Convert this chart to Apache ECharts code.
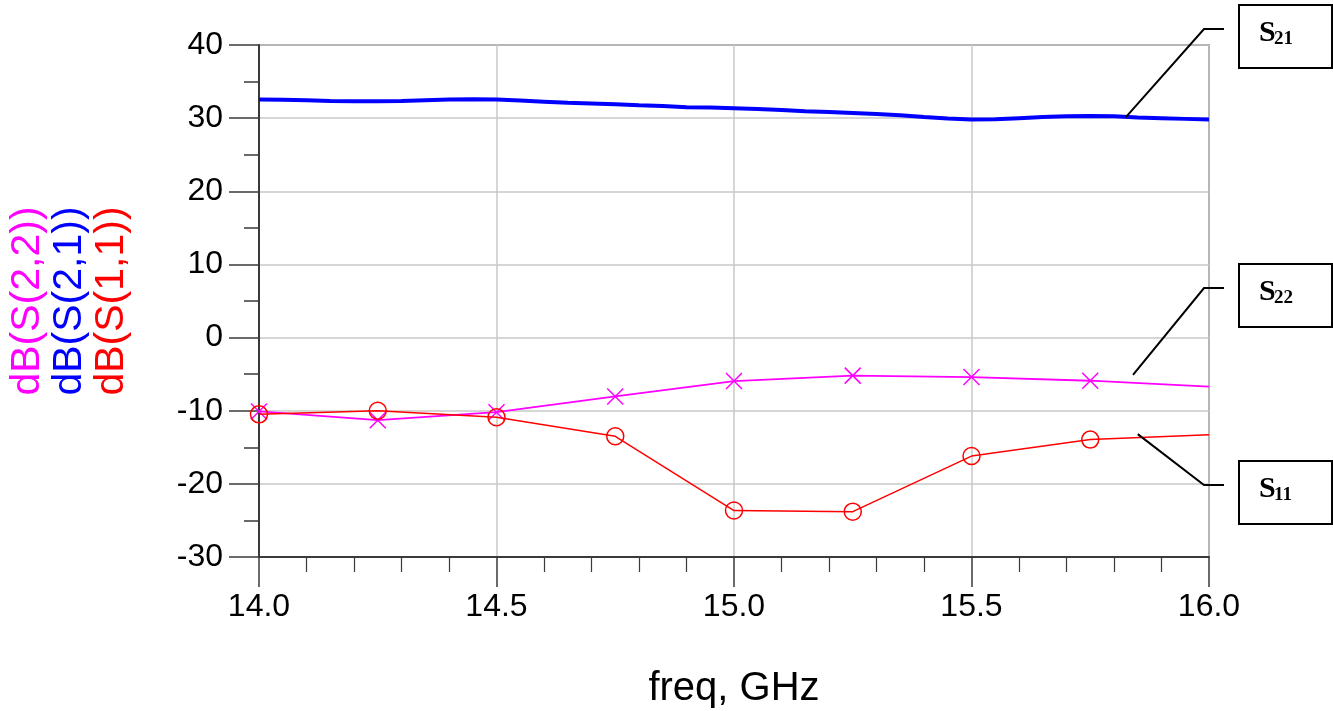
<!DOCTYPE html>
<html>
<head>
<meta charset="utf-8">
<script src="https://cdn.jsdelivr.net/npm/echarts@6/dist/echarts.min.js"></script>
<style>
html,body{margin:0;padding:0;background:#fff;}
#chart{width:1333px;height:711px;}
</style>
</head>
<body>
<div id="chart"></div>
<script>
// ---- data ----
const s21Freq = [14.00,14.05,14.10,14.15,14.20,14.25,14.30,14.35,14.40,14.45,14.50,14.55,14.60,14.65,14.70,14.75,14.80,14.85,14.90,14.95,15.00,15.05,15.10,15.15,15.20,15.25,15.30,15.35,15.40,15.45,15.50,15.55,15.60,15.65,15.70,15.75,15.80,15.85,15.90,15.95,16.00];
const s21Values = [32.55,32.5,32.45,32.35,32.3,32.3,32.35,32.45,32.55,32.6,32.55,32.4,32.25,32.1,32.0,31.9,31.75,31.65,31.5,31.45,31.35,31.25,31.1,30.95,30.85,30.7,30.55,30.4,30.15,29.95,29.8,29.85,30.0,30.15,30.25,30.3,30.25,30.1,30.0,29.9,29.8];
const markFreq = [14.0,14.25,14.5,14.75,15.0,15.25,15.5,15.75,16.0];
const s22Values = [-10.1,-11.3,-10.2,-8.05,-5.95,-5.2,-5.4,-5.9,-6.7];
const s11Values = [-10.5,-10.0,-10.9,-13.5,-23.65,-23.8,-16.2,-13.95,-13.3];
const xTicks = {min:14, max:16, interval:0.5};
const yTicks = {min:-30, max:40, interval:10};
const yNames = ['dB(S(2,2))','dB(S(2,1))','dB(S(1,1))'];
const annotations = [
  {label:'S', sub:'21', point:[15.825, 30.15]},
  {label:'S', sub:'22', point:[15.84, -5.1]},
  {label:'S', sub:'11', point:[15.85, -13.2]}
];

const MAG = '#ff00ff', BLUE = '#0000ff', RED = '#ff0000';
const AXC = '#3a3a3a';
const FONT = 'Liberation Sans, Arial, sans-serif';

function pairs(xs, ys, lastNoSymbol) {
  return xs.map((x, i) => {
    if (lastNoSymbol && i === xs.length - 1) return {value:[x, ys[i]], symbol:'none'};
    return [x, ys[i]];
  });
}

const chart = echarts.init(document.getElementById('chart'), null, {renderer:'canvas'});

const option = {
  animation:false,
  backgroundColor:'#fff',
  grid:{left:259, right:124, top:45, bottom:154, containLabel:false, outerBoundsMode:'none',
    show:true, borderColor:'#555', borderWidth:1.5, backgroundColor:'transparent'},
  xAxis:{
    type:'value', min:xTicks.min, max:xTicks.max, interval:xTicks.interval,
    name:'freq, GHz', nameLocation:'middle', nameGap:112,
    nameTextStyle:{fontSize:40, color:'#000', fontFamily:FONT},
    axisLine:{show:true, onZero:false, lineStyle:{color:AXC, width:2}},
    axisTick:{show:true, inside:false, length:30, lineStyle:{color:AXC, width:1.5}},
    minorTick:{show:true, splitNumber:5, length:15, lineStyle:{color:AXC, width:1.2}},
    axisLabel:{fontSize:32, color:'#000', fontFamily:FONT, margin:34, formatter:v => v.toFixed(1)},
    splitLine:{show:true, lineStyle:{color:'#c8c8c8', width:1.5}}
  },
  yAxis:{
    type:'value', min:yTicks.min, max:yTicks.max, interval:yTicks.interval,
    name:'{m|' + yNames[0] + '}\n{b|' + yNames[1] + '}\n{r|' + yNames[2] + '}',
    nameLocation:'middle', nameRotate:90, nameGap:126,
    nameTextStyle:{fontSize:41, fontFamily:FONT, lineHeight:42,
      rich:{
        m:{color:MAG, fontSize:41, fontFamily:FONT, lineHeight:42},
        b:{color:BLUE, fontSize:41, fontFamily:FONT, lineHeight:42},
        r:{color:RED, fontSize:41, fontFamily:FONT, lineHeight:42}
      }},
    axisLine:{show:true, onZero:false, lineStyle:{color:AXC, width:2}},
    axisTick:{show:true, inside:false, length:30, lineStyle:{color:AXC, width:1.5}},
    minorTick:{show:true, splitNumber:2, length:15, lineStyle:{color:AXC, width:1.5}},
    axisLabel:{fontSize:32, color:'#000', fontFamily:FONT, margin:36},
    splitLine:{show:true, lineStyle:{color:'#c8c8c8', width:1.5}}
  },
  series:[
    {
      name:'S21', type:'line', data:pairs(s21Freq, s21Values, false),
      showSymbol:false, symbol:'none',
      lineStyle:{color:BLUE, width:4}, itemStyle:{color:BLUE}, z:3
    },
    {
      name:'S22', type:'line', data:pairs(markFreq, s22Values, true),
      symbol:'path://M0,0L10,10M10,0L0,10', symbolSize:16, showAllSymbol:true,
      lineStyle:{color:MAG, width:1.8},
      itemStyle:{color:'rgba(0,0,0,0)', borderColor:MAG, borderWidth:1.5}, z:4
    },
    {
      name:'S11', type:'line', data:pairs(markFreq, s11Values, true),
      symbol:'circle', symbolSize:17, showAllSymbol:true,
      lineStyle:{color:RED, width:1.5},
      itemStyle:{color:'rgba(0,0,0,0)', borderColor:RED, borderWidth:1.5}, z:5
    }
  ]
};
chart.setOption(option);

// ---- annotation boxes with leader lines ----
const boxTops = [5, 264, 461];
const elbowY = [29, 288, 485];
const graphics = [];
annotations.forEach((a, i) => {
  const p = chart.convertToPixel({gridIndex:0}, a.point);
  const top = boxTops[i];
  graphics.push({
    type:'rect', shape:{x:1239, y:top, width:93, height:63},
    style:{fill:'#fff', stroke:'#000', lineWidth:2}, z:10
  });
  graphics.push({
    type:'text', x:1259, y:top + 28, z:11,
    style:{text:a.label, font:'bold 30px "Liberation Serif", "Times New Roman", serif', fill:'#000', verticalAlign:'middle', align:'left'}
  });
  graphics.push({
    type:'text', x:1274, y:top + 34, z:11,
    style:{text:a.sub, font:'bold 19px "Liberation Serif", "Times New Roman", serif', fill:'#000', verticalAlign:'middle', align:'left'}
  });
  graphics.push({
    type:'polyline', z:10,
    shape:{points:[[1224, elbowY[i]], [1204, elbowY[i]], [p[0], p[1]]]},
    style:{stroke:'#000', lineWidth:2, fill:null}
  });
});
chart.setOption({graphic:graphics});
</script>
</body>
</html>
